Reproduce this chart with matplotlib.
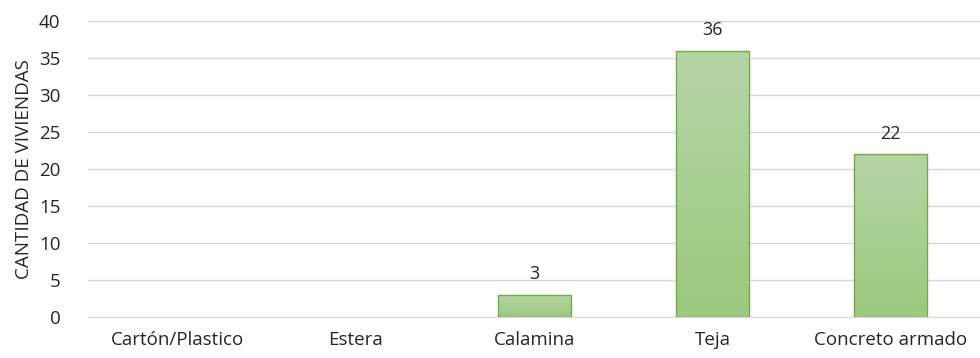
import numpy as np
import matplotlib.pyplot as plt
from matplotlib.colors import LinearSegmentedColormap

plt.rcParams['font.family'] = ['Open Sans', 'DejaVu Sans']

categorias = ['Cartón/Plastico', 'Estera', 'Calamina', 'Teja', 'Concreto armado']
viviendas = [0, 0, 3, 36, 22]

fig = plt.figure(figsize=(9.8, 3.58), dpi=100)
ax = fig.add_axes([0.09, 0.115, 0.91, 0.825])

x = np.arange(len(categorias))
ancho = 0.41
barras = ax.bar(x, viviendas, width=ancho, color='none', edgecolor='#70ad47',
                linewidth=1.0, zorder=3)

# gradiente vertical dentro de cada barra
degradado = LinearSegmentedColormap.from_list('verde', ['#9cc87f', '#b6d5a6'])
grad = np.linspace(0, 1, 256).reshape(-1, 1)
for b, v in zip(barras, viviendas):
    if v == 0:
        b.set_linewidth(0)
        continue
    x0 = b.get_x()
    im = ax.imshow(grad, cmap=degradado, origin='lower', aspect='auto',
                   extent=[x0, x0 + b.get_width(), 0, v], zorder=2)
    im.set_clip_path(b)
    ax.text(b.get_x() + b.get_width() / 2, v + 1.6, str(v), ha='center',
            va='bottom', fontsize=13, color='#262626')

ax.set_xlim(-0.5, len(categorias) - 0.5)
ax.set_ylim(0, 40)
ax.set_yticks(range(0, 41, 5))
ax.set_xticks(x)
ax.set_xticklabels(categorias, fontsize=13.5, color='#262626')
ax.tick_params(axis='y', labelsize=13.5, labelcolor='#262626', length=0, pad=20)
ax.tick_params(axis='x', length=0, pad=10)
ax.grid(axis='y', color='#d9d9d9', linewidth=1.0, zorder=0)
for s in ['top', 'right', 'left']:
    ax.spines[s].set_visible(False)
ax.spines['bottom'].set_color('#d9d9d9')
ax.set_ylabel('CANTIDAD DE VIVIENDAS', fontsize=13.5, color='#262626', labelpad=4)

fig.savefig('out.png', dpi=100)
